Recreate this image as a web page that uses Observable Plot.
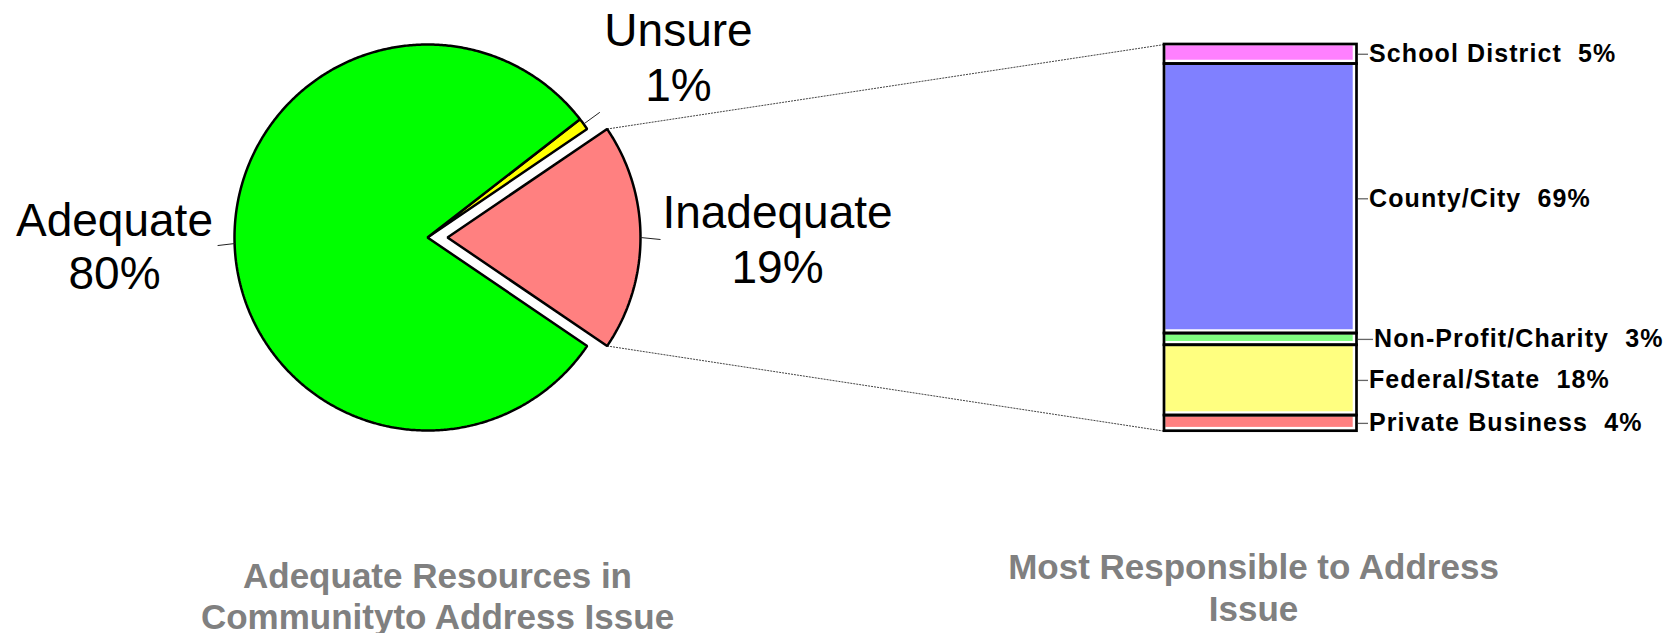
<!DOCTYPE html>
<html><head><meta charset="utf-8">
<script src="https://cdn.jsdelivr.net/npm/d3@7"></script>
<script src="https://cdn.jsdelivr.net/npm/@observablehq/plot@0.6"></script>
<style>
body{margin:0;background:#fff}
svg text{white-space:pre}
</style>
</head><body><div id="chart"></div>
<script>
// ---- data ----
const pieCategories = ["Inadequate", "Unsure", "Adequate"];
const pieValues = [19, 1, 80];
const pieColors = ["#FF8080", "#FFFF00", "#00FF00"];

const barCategories = ["Private Business", "Federal/State", "Non-Profit/Charity", "County/City", "School District"];
const barValues = [4, 18, 3, 69, 5];
const barColors = ["#FF8080", "#FFFF80", "#80FF80", "#8080FF", "#FF80FF"];

const pieTitle = ["Adequate Resources in", "Communityto Address Issue"];
const barTitle = ["Most Responsible to Address", "Issue"];

// ---- layout ----
const W = 1678, H = 633;
const barTop = 44, barBottom = 430.7, barLeft = 1164, barRight = 1356.5;
const total = d3.sum(barValues);
const K = (barBottom - barTop) / total;          // px per percent on the y scale
const toY = py => (barBottom - py) / K;           // pixel row -> y data units
const cx = 427, cy = 237, R = 193, explode = 20;
const deg = Math.PI / 180;

// pie wedges (counter-clockwise, first slice centred on 3 o'clock)
let acc = -pieValues[0] / 2;
const wedges = pieCategories.map((c, i) => {
  const a0 = acc * 3.6 * deg, a1 = (acc + pieValues[i]) * 3.6 * deg;
  acc += pieValues[i];
  const mid = (a0 + a1) / 2;
  const off = i === 0 ? explode : 0;
  const ox = cx + off * Math.cos(mid), oy = cy - off * Math.sin(mid);
  const n = Math.max(2, Math.ceil((a1 - a0) / (0.5 * deg)) + 1);
  const pts = [{x: ox, y: toY(oy)}];
  for (let k = 0; k < n; k++) {
    const a = a0 + (a1 - a0) * k / (n - 1);
    pts.push({x: ox + R * Math.cos(a), y: toY(oy - R * Math.sin(a))});
  }
  return {name: c, value: pieValues[i], color: pieColors[i], a0, a1, mid, ox, oy, pts};
});

// pie labels
const pieFont = 46;
const pieLabelPos = {Adequate: [114, 235, 288], Unsure: [678, 45, 100], Inadequate: [777, 227, 282]};
const pieText = [];
wedges.forEach(w => {
  const [x, b1, b2] = pieLabelPos[w.name];
  pieText.push({x, y: toY(b1 - 0.32 * pieFont), t: w.name});
  pieText.push({x, y: toY(b2 - 0.32 * pieFont), t: `${w.value}%`});
});
// pie leader lines
const leaders = wedges.map(w => {
  const ex = w.ox + R * Math.cos(w.mid), ey = w.oy - R * Math.sin(w.mid);
  let tx, ty;
  if (w.name === "Adequate") { tx = ex - 17; ty = ey + 2; }
  else if (w.name === "Inadequate") { tx = ex + 20; ty = ey + 2; }
  else { tx = ex + 20 * Math.cos(w.mid); ty = ey - 20 * Math.sin(w.mid); }
  return {x1: ex, y1: toY(ey), x2: tx, y2: toY(ty)};
});
// connectors from exploded slice to bar
const ex0 = wedges[0];
const connectors = [
  {x1: ex0.ox + R * Math.cos(ex0.a1), y1: toY(ex0.oy - R * Math.sin(ex0.a1)), x2: barLeft, y2: total},
  {x1: ex0.ox + R * Math.cos(ex0.a0), y1: toY(ex0.oy - R * Math.sin(ex0.a0)), x2: barLeft, y2: 0}
];

// bar stack
let cum = 0;
const bars = barCategories.map((c, i) => {
  const d = {name: c, value: barValues[i], color: barColors[i], y1: cum, y2: cum + barValues[i]};
  cum += barValues[i];
  d.ym = (d.y1 + d.y2) / 2;
  d.tick = c === "Non-Profit/Charity" ? 16 : 11;
  return d;
});

const titleFont = 35;
const titleText = [
  {x: 437, y: toY(587 - 0.32 * titleFont), t: pieTitle[0]},
  {x: 437, y: toY(628 - 0.32 * titleFont), t: pieTitle[1]},
  {x: 1253, y: toY(578 - 0.32 * titleFont), t: barTitle[0]},
  {x: 1253, y: toY(620 - 0.32 * titleFont), t: barTitle[1]}
];

const font = "'Liberation Sans', Arial, sans-serif";
const barLabelText = d => `${d.name}  ${d.value}%`;

const chart = Plot.plot({
  width: W, height: H,
  marginTop: 0, marginBottom: 0, marginLeft: 0, marginRight: 0,
  style: {fontFamily: font, background: "#fff", overflow: "visible"},
  x: {domain: [0, W], range: [0, W], axis: null},
  y: {domain: [0, total], range: [barBottom, barTop], axis: null},
  color: {type: "identity"},
  marks: [
    // connectors
    Plot.link(connectors, {x1: "x1", y1: "y1", x2: "x2", y2: "y2", stroke: "#444", strokeWidth: 1, strokeDasharray: "2,1"}),
    // pie wedges
    ...wedges.map(w => Plot.line(w.pts, {x: "x", y: "y", curve: "linear-closed", fill: w.color, stroke: "black", strokeWidth: 2.5, strokeLinejoin: "miter"})),
    Plot.link(leaders, {x1: "x1", y1: "y1", x2: "x2", y2: "y2", stroke: "#222", strokeWidth: 1}),
    Plot.text(pieText, {x: "x", y: "y", text: "t", fontSize: pieFont, fill: "black", fontFamily: font, textAnchor: "middle", lineAnchor: "middle"}),
    // bar
    Plot.rect(bars, {x1: () => barLeft, x2: () => barRight, y1: "y1", y2: "y2", fill: "white"}),
    Plot.rect(bars, {x1: () => barLeft, x2: () => barRight, y1: "y1", y2: "y2", fill: "color", insetLeft: 1.3, insetTop: 1.3, insetRight: 3.8, insetBottom: 3.8}),
    Plot.rect(bars, {x1: () => barLeft, x2: () => barRight, y1: "y1", y2: "y2", fill: "none", stroke: "black", strokeWidth: 2.7}),
    Plot.link(bars, {x1: () => barRight + 1, x2: d => barRight + d.tick, y1: "ym", y2: "ym", stroke: "#666", strokeWidth: 1.3}),
    Plot.text(bars, {x: d => barRight + d.tick + 1, y: "ym", text: barLabelText, textAnchor: "start", lineAnchor: "middle", fontSize: 25, fontWeight: "bold", fill: "black", fontFamily: font}),
    // titles
    Plot.text(titleText, {x: "x", y: "y", text: "t", fontSize: titleFont, fontWeight: "bold", fill: "#808080", fontFamily: font, textAnchor: "middle", lineAnchor: "middle"})
  ]
});
// widen letter spacing of the bar labels as in the original
const barLabelSet = new Set(bars.map(barLabelText));
d3.select(chart).selectAll("text").filter(function () { return barLabelSet.has(this.textContent); })
  .attr("letter-spacing", "1.1px");
document.getElementById("chart").append(chart);
</script>
</body></html>
